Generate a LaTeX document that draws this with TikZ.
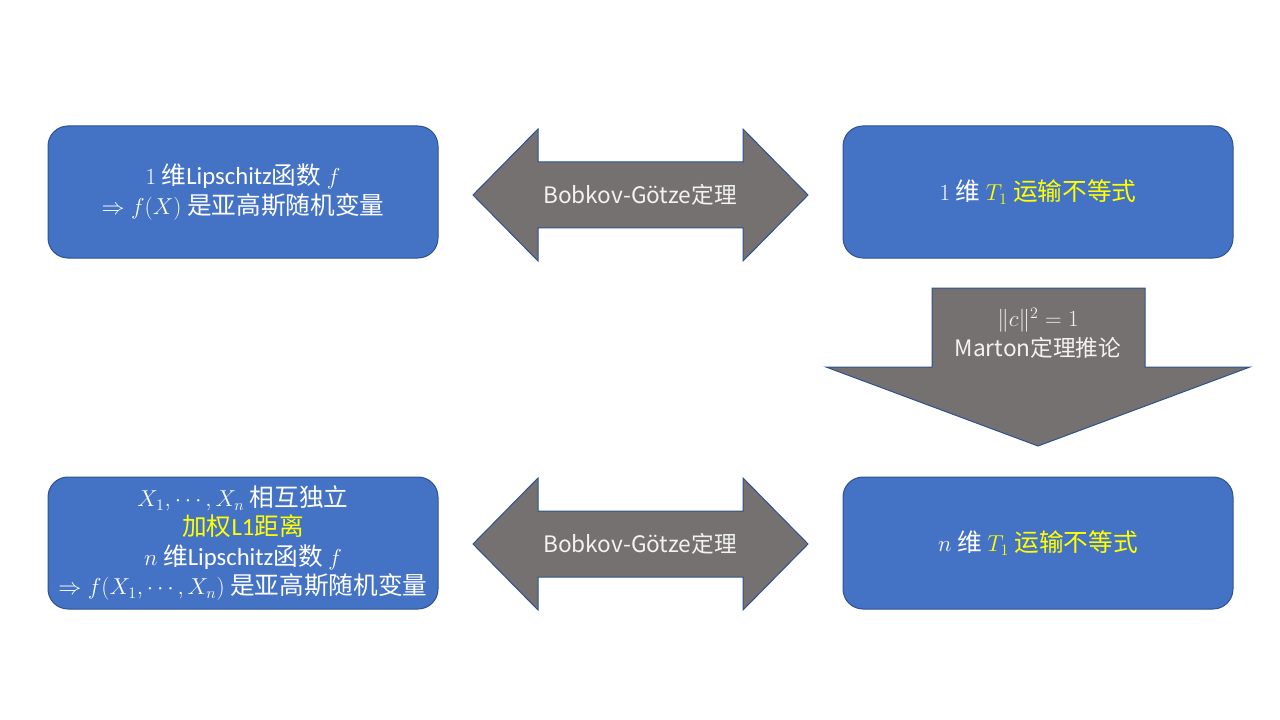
\documentclass[tikz,border=0pt]{standalone}
\usepackage{fontspec}
\setmainfont{Carlito}
\newfontfamily\cjk{Noto Sans CJK SC}
\definecolor{boxblue}{HTML}{4472C4}
\definecolor{boxedge}{HTML}{2F528F}
\definecolor{arrgray}{HTML}{767171}
\definecolor{hl}{HTML}{FFFF00}
\definecolor{lbl}{HTML}{F2F2F2}
\tikzset{
  box/.style={draw=boxedge, fill=boxblue, line width=0.75pt, rounded corners=15pt,
    minimum width=292.5pt, minimum height=99pt, text=white, align=center,
    font=\fontsize{18.5}{22}\selectfont, inner sep=0pt},
  blockarrow/.style={draw=boxedge, fill=arrgray, line width=0.75pt},
  arrowlabel/.style={text=lbl, align=center, font=\fontsize{17}{22}\selectfont\cjk, inner sep=0pt}
}
\begin{document}
\begin{tikzpicture}[x=0.75pt,y=-0.75pt]
\useasboundingbox (0,0) rectangle (1280,720);
% boxes
\node[box] (a) at (243,192) {$1$ {\cjk 维}Lipschitz{\cjk 函数} $f$\\ $\Rightarrow f(X)$ {\cjk 是亚高斯随机变量}};
\node[box] (b) at (1038,192) {$1$ {\cjk 维} \textcolor{hl}{$T_1$ {\cjk 运输不等式}}};
\node[box] (c) at (243,543) {$X_1,\cdots,X_n$ {\cjk 相互独立}\\ \textcolor{hl}{{\cjk 加权}L1{\cjk 距离}}\\ $n$ {\cjk 维}Lipschitz{\cjk 函数} $f$\\ $\Rightarrow f(X_1,\cdots,X_n)$ {\cjk 是亚高斯随机变量}};
\node[box] (d) at (1038,543) {$n$ {\cjk 维} \textcolor{hl}{$T_1$ {\cjk 运输不等式}}};
% top double arrow
\draw[blockarrow] (473,195) -- (538,129) -- (538,162) -- (743,162) -- (743,129) -- (808,195)
  -- (743,261) -- (743,228) -- (538,228) -- (538,261) -- cycle;
\node[arrowlabel] (ab) at (640,195) {Bobkov-Götze定理};
% bottom double arrow
\draw[blockarrow] (473,544) -- (538,478) -- (538,511) -- (743,511) -- (743,478) -- (808,544)
  -- (743,610) -- (743,577) -- (538,577) -- (538,610) -- cycle;
\node[arrowlabel] (cd) at (640,544) {Bobkov-Götze定理};
% down arrow
\draw[blockarrow] (932,288) -- (1145,288) -- (1145,367) -- (1250,367) -- (1038,446)
  -- (826,367) -- (932,367) -- cycle;
\node[arrowlabel] (bd) at (1038,333) {$\|c\|^2=1$\\ Marton定理推论};
\end{tikzpicture}
\end{document}
